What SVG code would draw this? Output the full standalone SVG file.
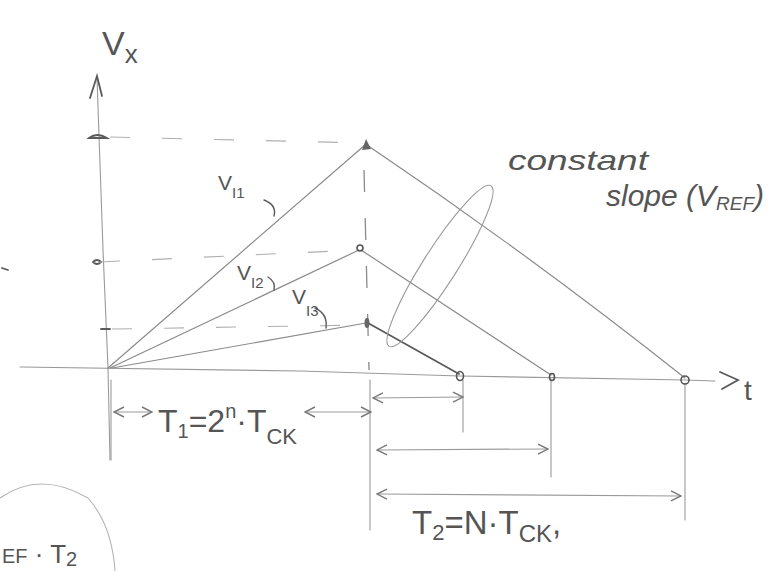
<svg xmlns="http://www.w3.org/2000/svg" width="775" height="571" viewBox="0 0 775 571">
<style>
.ax{stroke:#9a9a9a;stroke-width:1.1;fill:none;stroke-linecap:round}
.ln{stroke:#8a8a8a;stroke-width:1.2;fill:none;stroke-linecap:round}
.dk{stroke:#5a5a5a;stroke-width:1.8;fill:none;stroke-linecap:round}
.ds{stroke:#b0b0b0;stroke-width:1.1;fill:none;stroke-dasharray:20 32}
.vd{stroke:#8a8a8a;stroke-width:1.3;fill:none;stroke-dasharray:22 26}
.ar{stroke:#9a9a9a;stroke-width:1.2;fill:none;marker-start:url(#a);marker-end:url(#a)}
.pt{fill:none;stroke:#555;stroke-width:1.6}
.bl{fill:#666}
.tx{font-family:"Liberation Sans","DejaVu Sans",sans-serif;fill:#555}
</style>
<defs>
<marker id="a" viewBox="0 0 12 12" refX="11" refY="6" markerWidth="12" markerHeight="12" markerUnits="userSpaceOnUse" orient="auto-start-reverse">
<path d="M1 1 L11 6 L1 11" fill="none" stroke="#777" stroke-width="1.4"/>
</marker>
</defs>

<g id="axes">
<path class="ax" d="M97 78 L103 250 L108 368 L110 460"/>
<path class="dk" d="M90 98 L97 76 L102 96"/>
<path class="ax" d="M20 367 L300 371 L460 376 L685 380 L715 381"/>
<path class="dk" d="M720 372 L738 380 L722 389"/>
<path class="dk" d="M89 138 Q97 132 107 138 Z"/>
<path class="dk" d="M93 262 Q97 258 101 262 Q97 266 93 262"/>
<path class="dk" d="M101 329 L110 329"/>
<path class="dk" d="M2 268 L8 270"/>
</g>

<g id="guides">
<path class="ds" d="M110 137 L365 143"/>
<path class="ds" d="M100 262 L358 250"/>
<path class="ds" d="M112 329 L365 325"/>
<path class="vd" d="M364 170 L366 250 L369 370"/>
<path class="ax" d="M370 380 L370 530"/>
<path class="ax" d="M111 380 L111 460"/>
<path class="ax" d="M463 380 L463 432"/>
<path class="ax" d="M551 380 L551 477"/>
<path class="ax" d="M685 383 L685 520"/>
</g>

<g id="connectors">
<path class="ln" d="M108 368 L365 145"/>
<path class="ln" d="M367 145 Q530 255 685 378"/>
<path class="ln" d="M110 368 L359 250"/>
<path class="ln" d="M361 250 L551 375"/>
<path class="ln" d="M112 368 L366 323"/>
<path class="dk" d="M368 323 L459 374"/>
<ellipse class="ax" cx="440" cy="266" rx="95" ry="17" transform="rotate(-57.5 440 266)"/>
<path class="ar" d="M114 412 L152 412"/>
<path class="ar" d="M371 412 L305 412"/>
<path class="ar" d="M373 398 L463 397"/>
<path class="ar" d="M377 450 L548 449"/>
<path class="ar" d="M377 494 L681 496"/>
<path class="ax" d="M0 498 Q40 470 88 498 Q112 525 115 571" style="stroke:#b5b5b5"/>
</g>

<g id="points">
<path class="bl" d="M362 150 L366 139 L371 149 Z"/>
<circle class="pt" cx="360" cy="248" r="3"/>
<ellipse class="bl" cx="367" cy="323" rx="2.5" ry="5"/>
<ellipse class="pt" cx="460" cy="376" rx="3.5" ry="4.5"/>
<ellipse class="pt" cx="552" cy="377" rx="2.5" ry="3.5"/>
<circle class="pt" cx="685" cy="380" r="4"/>
</g>

<g id="labels">
<text class="tx" x="102" y="55" font-size="34">V<tspan font-size="26" dy="8">x</tspan></text>
<text class="tx" x="744" y="400" font-size="28">t</text>
<text class="tx" x="218" y="190" font-size="21">V<tspan font-size="15" dy="8">I1</tspan></text>
<path class="dk" d="M264 200 Q277 205 274 216" style="stroke-width:1.4"/>
<text class="tx" x="237" y="280" font-size="21">V<tspan font-size="15" dy="8">I2</tspan></text>
<path class="dk" d="M268 277 Q276 282 274 290" style="stroke-width:1.4"/>
<text class="tx" x="292" y="304" font-size="21">V<tspan font-size="15" dy="12">I3</tspan></text>
<path class="dk" d="M315 308 Q328 314 326 328" style="stroke-width:1.4"/>
<text class="tx" x="508" y="170" font-size="28" font-style="italic" textLength="140" lengthAdjust="spacingAndGlyphs">constant</text>
<text class="tx" x="606" y="206" font-size="30" font-style="italic">slope (V<tspan font-size="19" dy="4">REF</tspan><tspan dy="-4">)</tspan></text>
<text class="tx" x="158" y="432" font-size="32">T<tspan font-size="20" dy="6">1</tspan><tspan dy="-6">=2</tspan><tspan font-size="20" dy="-14">n</tspan><tspan dy="14">·T</tspan><tspan font-size="22" dy="12">CK</tspan></text>
<text class="tx" x="412" y="534" font-size="33">T<tspan font-size="22" dy="6">2</tspan><tspan dy="-6">=N·T</tspan><tspan font-size="24" dy="8">CK</tspan><tspan dy="-8">,</tspan></text>
<text class="tx" x="2" y="563" font-size="26"><tspan font-size="20">EF</tspan> · T<tspan font-size="20" dy="3">2</tspan></text>
</g>
</svg>
